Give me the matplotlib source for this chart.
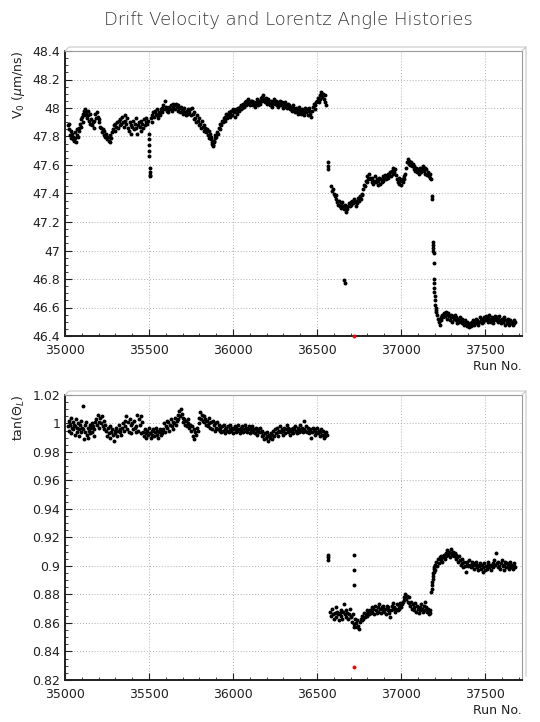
import matplotlib.pyplot as plt
from matplotlib.ticker import MultipleLocator, FormatStrFormatter
from matplotlib.lines import Line2D

# ---- drift velocity V0 vs run number ----
v0_runs = [
    35018, 35022, 35026, 35030, 35034, 35038, 35042, 35046, 35050, 35054, 35058, 35062, 35066, 35070, 35074, 35078, 35082, 35086, 35090, 35094, 35098,
    35102, 35106, 35110, 35114, 35118, 35122, 35126, 35130, 35134, 35138, 35142, 35146, 35150,
    35155, 35160, 35165, 35170, 35175, 35180, 35185, 35190, 35195, 35200, 35205, 35210,
    35215, 35220, 35225, 35230, 35235, 35240, 35245, 35250, 35255, 35260, 35265, 35270, 35275, 35280,
    35285, 35290, 35295, 35300, 35305, 35310, 35315, 35320, 35325, 35330, 35335, 35340, 35345, 35350, 35355, 35360,
    35365, 35370, 35375, 35380, 35385, 35390, 35395, 35400, 35405, 35410, 35415, 35420, 35425, 35430, 35435, 35440,
    35445, 35450, 35455, 35460, 35465, 35470, 35475, 35480, 35485, 35490, 35495,
    35498, 35499, 35500, 35501, 35502, 35503, 35504, 35505, 35506,
    35510, 35515, 35520, 35525, 35530, 35535, 35540, 35545, 35550, 35555, 35560, 35565, 35570, 35575, 35580, 35585, 35590, 35595, 35600,
    35605, 35610, 35615, 35620, 35625, 35630, 35635, 35640, 35645, 35650, 35655, 35660, 35665, 35670,
    35675, 35680, 35685, 35690, 35695, 35700, 35705, 35710, 35715, 35720, 35725, 35730, 35735, 35740,
    35745, 35750, 35755, 35760, 35765, 35770, 35775, 35780, 35785, 35790, 35795, 35800,
    35805, 35810, 35815, 35820, 35825, 35830, 35835, 35840, 35845, 35850, 35855, 35860,
    35865, 35868, 35871, 35874, 35877, 35880, 35883, 35886, 35889, 35892, 35895,
    35900, 35905, 35910, 35915, 35920, 35925, 35930, 35935, 35940, 35945, 35950, 35955,
    35960, 35965, 35970, 35975, 35980, 35985, 35990, 35995, 36000, 36005, 36010,
    36015, 36020, 36025, 36030, 36035, 36040, 36045, 36050, 36055, 36060,
    36065, 36070, 36075, 36080, 36085, 36090, 36095, 36100, 36105, 36110,
    36115, 36120, 36125, 36130, 36135, 36140, 36145, 36150, 36155, 36160, 36165, 36170, 36175, 36180, 36185,
    36190, 36195, 36200, 36205, 36210, 36215, 36220, 36225, 36230, 36235, 36240, 36245, 36250, 36255, 36260,
    36265, 36270, 36275, 36280, 36285, 36290, 36295, 36300, 36305, 36310, 36315, 36320, 36325, 36330,
    36335, 36340, 36345, 36350, 36355, 36360, 36365, 36370, 36375, 36380, 36385, 36390, 36395, 36400, 36405, 36410,
    36415, 36420, 36425, 36430, 36435, 36440, 36445, 36450, 36455, 36460, 36465, 36470, 36475, 36480, 36485, 36490, 36495,
    36500, 36505, 36510, 36515, 36520, 36525, 36530, 36535, 36540, 36545, 36550, 36555,
    36564, 36566, 36568,
    36585, 36590, 36595, 36600, 36605, 36610, 36615, 36620, 36625, 36630, 36635,
    36640, 36645, 36650, 36655, 36660, 36665, 36670, 36675, 36680, 36685, 36690,
    36695, 36700, 36705, 36710, 36715, 36720, 36725, 36730, 36735, 36740, 36745, 36750, 36755, 36760, 36765, 36770,
    36775, 36780, 36785, 36790, 36795, 36800, 36805, 36810, 36815,
    36820, 36825, 36830, 36835, 36840, 36845, 36850, 36855, 36860, 36865, 36870, 36875,
    36880, 36885, 36890, 36895, 36900, 36905, 36910, 36915, 36920, 36925, 36930,
    36935, 36940, 36945, 36950, 36955, 36960, 36965, 36970, 36975,
    36980, 36985, 36990, 36995, 37000, 37005, 37010, 37015, 37020, 37025,
    37030, 37035, 37040, 37045, 37050, 37055, 37060, 37065, 37070,
    37075, 37080, 37085, 37090, 37095, 37100, 37105, 37110, 37115, 37120, 37125,
    37130, 37135, 37140, 37145, 37150, 37155, 37160, 37165, 37170, 37175, 37180,
    37183, 37185, 37190, 37191, 37192, 37193, 37194, 37195, 37196, 37197, 37198, 37199, 37200, 37202, 37204, 37206, 37208, 37210,
    37215, 37220, 37225, 37230, 37235, 37240, 37245, 37250, 37255, 37260, 37265, 37270, 37275, 37280,
    37285, 37290, 37295, 37300, 37305, 37310, 37315, 37320, 37325, 37330, 37335, 37340, 37345, 37350,
    37355, 37360, 37365, 37370, 37375, 37380, 37385, 37390, 37395, 37400, 37405, 37410, 37415, 37420,
    37425, 37430, 37435, 37440, 37445, 37450, 37455, 37460, 37465, 37470, 37475, 37480, 37485,
    37490, 37495, 37500, 37505, 37510, 37515, 37520, 37525, 37530, 37535, 37540, 37545, 37550,
    37555, 37560, 37565, 37570, 37575, 37580, 37585, 37590, 37595, 37600, 37605, 37610, 37615,
    37620, 37625, 37630, 37635, 37640, 37645, 37650, 37655, 37660, 37665, 37670, 37675, 37680,
]
v0_vals = [
    47.88, 47.85, 47.89, 47.81, 47.84, 47.79, 47.82, 47.78, 47.80, 47.77, 47.83, 47.79, 47.76, 47.81, 47.85, 47.80, 47.86, 47.84, 47.89, 47.87, 47.92,
    47.94, 47.90, 47.96, 47.98, 47.95, 47.99, 47.97, 47.93, 47.98, 47.95, 47.91, 47.96, 47.89,
    47.92, 47.88, 47.90, 47.86, 47.91, 47.96, 47.93, 47.97, 47.94, 47.90, 47.92, 47.87,
    47.86, 47.83, 47.85, 47.81, 47.84, 47.80, 47.82, 47.78, 47.80, 47.77, 47.81, 47.76, 47.79, 47.83,
    47.85, 47.88, 47.84, 47.89, 47.87, 47.90, 47.86, 47.91, 47.88, 47.92, 47.89, 47.94, 47.90, 47.87, 47.91, 47.95,
    47.89, 47.93, 47.86, 47.84, 47.90, 47.88, 47.82, 47.87, 47.91, 47.85, 47.89, 47.93, 47.86, 47.82, 47.88, 47.90,
    47.87, 47.84, 47.91, 47.89, 47.86, 47.92, 47.88, 47.90, 47.93, 47.89, 47.91,
    47.82, 47.78, 47.74, 47.70, 47.66, 47.58, 47.55, 47.53, 47.52,
    47.93, 47.90, 47.95, 47.97, 47.94, 47.98, 47.96, 47.99, 47.95, 47.93, 47.97, 47.95, 47.99, 48.00, 47.97, 48.02, 47.99, 48.05, 48.01,
    47.98, 48.00, 47.97, 48.01, 47.99, 48.02, 47.98, 48.03, 48.00, 48.02, 47.99, 48.03, 48.01, 47.98,
    48.02, 48.00, 47.97, 48.01, 47.99, 47.96, 47.98, 48.00, 47.97, 47.95, 47.98, 47.96, 47.99, 47.97,
    47.99, 47.95, 48.00, 47.96, 47.92, 47.97, 47.93, 47.90, 47.95, 47.91, 47.88, 47.93,
    47.89, 47.86, 47.91, 47.87, 47.84, 47.88, 47.86, 47.83, 47.85, 47.81, 47.84, 47.79,
    47.82, 47.78, 47.80, 47.76, 47.75, 47.73, 47.74, 47.77, 47.76, 47.79, 47.81,
    47.80, 47.83, 47.82, 47.86, 47.85, 47.89, 47.88, 47.91, 47.90, 47.93, 47.91, 47.94,
    47.96, 47.93, 47.95, 47.97, 47.94, 47.96, 47.98, 47.95, 47.99, 47.97, 47.94,
    47.97, 47.99, 47.96, 48.00, 47.98, 48.01, 47.99, 48.02, 48.00, 48.03,
    48.01, 48.04, 48.02, 48.05, 48.03, 48.06, 48.04, 48.02, 48.05, 48.03,
    48.05, 48.02, 48.04, 48.01, 48.03, 48.06, 48.04, 48.02, 48.05, 48.03, 48.07, 48.05, 48.08, 48.09, 48.06,
    48.04, 48.07, 48.05, 48.03, 48.06, 48.04, 48.02, 48.05, 48.03, 48.01, 48.04, 48.06, 48.03, 48.05, 48.02,
    48.04, 48.01, 48.03, 48.05, 48.02, 48.04, 48.00, 48.03, 48.01, 48.04, 48.02, 48.00, 48.03, 48.01,
    48.02, 47.99, 48.01, 47.98, 48.00, 48.02, 47.99, 47.97, 48.00, 47.98, 47.96, 47.99, 48.01, 47.98, 47.96, 47.99,
    47.97, 47.95, 47.98, 48.00, 47.97, 47.99, 47.95, 47.98, 48.00, 47.96, 47.94, 47.98, 48.01, 48.03, 47.99, 48.02, 48.04,
    48.05, 48.07, 48.04, 48.09, 48.06, 48.11, 48.08, 48.10, 48.06, 48.09, 48.04, 48.02,
    47.62, 47.59, 47.57,
    47.45, 47.42, 47.43, 47.40, 47.38, 47.36, 47.39, 47.34, 47.32, 47.35, 47.31,
    47.33, 47.30, 47.34, 47.31, 47.29, 47.32, 47.30, 47.27, 47.29, 47.31, 47.33,
    47.31, 47.34, 47.32, 47.35, 47.33, 47.36, 47.34, 47.31, 47.35, 47.33, 47.37, 47.35, 47.38, 47.36, 47.40, 47.39,
    47.43, 47.46, 47.45, 47.49, 47.48, 47.52, 47.50, 47.54, 47.51,
    47.50, 47.48, 47.51, 47.47, 47.49, 47.52, 47.48, 47.50, 47.46, 47.49, 47.51, 47.47,
    47.50, 47.48, 47.52, 47.49, 47.51, 47.53, 47.50, 47.52, 47.54, 47.51, 47.53,
    47.55, 47.52, 47.56, 47.54, 47.58, 47.55, 47.57, 47.53, 47.50,
    47.48, 47.51, 47.47, 47.49, 47.46, 47.50, 47.48, 47.52, 47.50, 47.54,
    47.58, 47.62, 47.64, 47.61, 47.63, 47.60, 47.62, 47.59, 47.61,
    47.57, 47.59, 47.56, 47.58, 47.55, 47.57, 47.54, 47.56, 47.58, 47.55, 47.57,
    47.59, 47.56, 47.58, 47.54, 47.57, 47.53, 47.55, 47.52, 47.54, 47.51, 47.50,
    47.38, 47.36, 47.06, 47.04, 47.02, 47.00, 46.98, 46.91, 46.80, 46.77, 46.74, 46.71, 46.68, 46.65, 46.62, 46.60, 46.58, 46.57,
    46.55, 46.52, 46.50, 46.48, 46.53, 46.51, 46.55, 46.53, 46.56, 46.54, 46.57, 46.55, 46.52, 46.56,
    46.54, 46.51, 46.55, 46.53, 46.50, 46.54, 46.52, 46.55, 46.51, 46.53, 46.49, 46.52, 46.50, 46.53,
    46.51, 46.49, 46.52, 46.50, 46.48, 46.51, 46.49, 46.47, 46.50, 46.48, 46.46, 46.49, 46.47, 46.50,
    46.49, 46.51, 46.48, 46.50, 46.52, 46.49, 46.51, 46.48, 46.50, 46.53, 46.51, 46.49, 46.52,
    46.50, 46.53, 46.51, 46.54, 46.52, 46.50, 46.53, 46.55, 46.52, 46.50, 46.53, 46.51, 46.49,
    46.52, 46.54, 46.51, 46.53, 46.50, 46.52, 46.54, 46.51, 46.49, 46.52, 46.50, 46.53, 46.51,
    46.48, 46.51, 46.49, 46.52, 46.50, 46.48, 46.51, 46.49, 46.50, 46.48, 46.51, 46.49, 46.50,
]
v0_out_runs = [36662, 36664]
v0_out_vals = [46.79, 46.77]
v0_red_runs = [36720]
v0_red_vals = [46.40]

# ---- tan of Lorentz angle vs run number ----
tan_runs = [
    35018, 35022, 35026, 35030, 35034, 35038, 35042, 35046, 35050, 35054, 35058, 35062,
    35066, 35070, 35074, 35078, 35082, 35086, 35090, 35094, 35098, 35102, 35106,
    35110, 35114, 35118, 35122, 35126, 35130, 35134, 35138, 35142, 35146, 35150, 35154, 35158, 35162, 35166, 35170, 35174, 35178,
    35185, 35190, 35195, 35200, 35205, 35210, 35215, 35220, 35225, 35230, 35235, 35240,
    35245, 35250, 35255, 35260, 35265, 35270, 35275, 35280, 35285, 35290, 35295,
    35300, 35305, 35310, 35315, 35320, 35325, 35330, 35335, 35340, 35345, 35350,
    35355, 35360, 35365, 35370, 35375, 35380, 35385, 35390, 35395, 35400, 35405, 35410, 35415, 35420,
    35425, 35430, 35435, 35440, 35445, 35450, 35455, 35460,
    35465, 35470, 35475, 35480, 35485, 35490, 35495, 35500, 35505, 35510, 35515, 35520,
    35525, 35530, 35535, 35540, 35545, 35550, 35555, 35560, 35565, 35570, 35575, 35580,
    35585, 35590, 35595, 35600, 35605, 35610, 35615, 35620, 35625, 35630, 35635, 35640,
    35645, 35650, 35655, 35660, 35665, 35670, 35675, 35680, 35685, 35690, 35695,
    35700, 35705, 35710, 35715, 35720, 35725, 35730, 35735, 35740, 35745,
    35750, 35755, 35760, 35765, 35770, 35775, 35780, 35785, 35790,
    35795, 35800, 35805, 35810, 35815, 35820, 35825, 35830,
    35835, 35840, 35845, 35850, 35855, 35860, 35865, 35870, 35875,
    35880, 35885, 35890, 35895, 35900, 35905, 35910, 35915, 35920,
    35925, 35930, 35935, 35940, 35945, 35950, 35955, 35960, 35965, 35970,
    35975, 35980, 35985, 35990, 35995, 36000, 36005, 36010, 36015, 36020,
    36025, 36030, 36035, 36040, 36045, 36050, 36055, 36060, 36065, 36070,
    36075, 36080, 36085, 36090, 36095, 36100, 36105, 36110, 36115, 36120,
    36125, 36130, 36135, 36140, 36145, 36150, 36155, 36160,
    36165, 36170, 36175, 36180, 36185, 36190, 36195, 36200, 36205,
    36210, 36215, 36220, 36225, 36230, 36235, 36240, 36245,
    36250, 36255, 36260, 36265, 36270, 36275, 36280, 36285, 36290, 36295,
    36300, 36305, 36310, 36315, 36320, 36325, 36330, 36335, 36340, 36345,
    36350, 36355, 36360, 36365, 36370, 36375, 36380, 36385, 36390, 36395,
    36400, 36405, 36410, 36415, 36420, 36425, 36430, 36435, 36440, 36445,
    36450, 36455, 36460, 36465, 36470, 36475, 36480, 36485, 36490, 36495,
    36500, 36505, 36510, 36515, 36520, 36525, 36530, 36535, 36540, 36545,
    36550, 36555, 36560,
    36564, 36565, 36566,
    36580, 36585, 36590, 36595, 36600, 36605, 36610, 36615, 36620, 36625,
    36630, 36635, 36640, 36645, 36650, 36655, 36660, 36665, 36670, 36675,
    36680, 36685, 36690, 36695, 36700,
    36705, 36710, 36715, 36720, 36725, 36730, 36735, 36740, 36745, 36750, 36755, 36760,
    36765, 36770, 36775, 36780, 36785, 36790, 36795, 36800, 36805, 36810,
    36815, 36820, 36825, 36830, 36835, 36840, 36845, 36850, 36855, 36860,
    36865, 36870, 36875, 36880, 36885, 36890, 36895, 36900, 36905, 36910,
    36915, 36920, 36925, 36930, 36935, 36940, 36945, 36950, 36955, 36960,
    36965, 36970, 36975, 36980, 36985, 36990, 36995, 37000, 37005,
    37010, 37015, 37020, 37025, 37030, 37035, 37040, 37045, 37050,
    37055, 37060, 37065, 37070, 37075, 37080, 37085, 37090, 37095, 37100,
    37105, 37110, 37115, 37120, 37125, 37130, 37135, 37140, 37145, 37150,
    37155, 37160, 37165, 37170, 37175,
    37180, 37182, 37184, 37186, 37188, 37190, 37192, 37194, 37196, 37198, 37200, 37202, 37205,
    37210, 37215, 37220, 37225, 37230, 37235, 37240, 37245, 37250, 37255,
    37260, 37265, 37270, 37275, 37280, 37285, 37290, 37295, 37300, 37305,
    37310, 37315, 37320, 37325, 37330, 37335, 37340, 37345, 37350, 37355,
    37360, 37365, 37370, 37375, 37380, 37385, 37390,
    37395, 37400, 37405, 37410, 37415, 37420, 37425, 37430, 37435, 37440,
    37445, 37450, 37455, 37460, 37465, 37470, 37475, 37480, 37485, 37490,
    37495, 37500, 37505, 37510, 37515, 37520, 37525, 37530, 37535, 37540,
    37545, 37550, 37555, 37560, 37565, 37570, 37575, 37580, 37585, 37590,
    37595, 37600, 37605, 37610, 37615, 37620, 37625, 37630, 37635, 37640,
    37645, 37650, 37655, 37660, 37665, 37670, 37675, 37680,
]
tan_vals = [
    0.998, 1.002, 0.995, 0.999, 1.004, 0.993, 0.997, 1.001, 0.996, 0.999, 0.992, 0.998,
    1.003, 0.994, 0.997, 1.000, 0.991, 0.996, 0.999, 0.994, 1.002, 0.997, 1.012,
    0.996, 0.989, 0.999, 0.994, 1.001, 0.992, 0.997, 0.990, 0.995, 0.999, 0.993, 0.997, 1.000, 0.994, 0.998, 0.991, 0.996, 1.001,
    1.003, 0.999, 1.006, 1.001, 0.997, 1.004, 1.000, 1.005, 0.998, 1.002, 0.996, 0.999,
    0.995, 0.991, 0.997, 0.993, 0.998, 0.990, 0.994, 0.996, 0.992, 0.988, 0.995,
    0.993, 0.997, 0.991, 0.995, 0.999, 0.994, 0.996, 0.992, 0.997, 1.000, 0.995,
    1.002, 0.998, 1.005, 0.996, 1.001, 0.994, 1.003, 0.999, 0.993, 1.000, 0.996, 1.002, 0.997, 0.994,
    0.998, 1.006, 0.995, 1.003, 0.999, 1.005, 0.993, 1.001,
    0.994, 0.991, 0.996, 0.993, 0.990, 0.995, 0.992, 0.997, 0.993, 0.990, 0.995, 0.992,
    0.996, 0.991, 0.994, 0.997, 0.992, 0.995, 0.990, 0.994, 0.996, 0.992, 0.995, 0.993,
    0.996, 1.000, 0.994, 0.998, 1.002, 0.997, 1.001, 0.995, 0.999, 1.003, 0.998, 1.001,
    0.996, 1.000, 1.004, 0.999, 1.002, 1.006, 1.003, 1.009, 1.005, 1.010, 1.007,
    1.004, 1.001, 1.003, 0.999, 1.002, 0.998, 1.000, 1.003, 0.997, 0.999,
    0.995, 0.998, 0.991, 0.996, 0.989, 0.994, 0.992, 0.997, 0.995,
    1.000, 1.004, 1.008, 1.003, 1.006, 1.002, 1.005, 1.001,
    1.003, 0.999, 1.002, 0.998, 1.004, 1.000, 0.997, 1.001, 0.996,
    1.002, 0.999, 0.995, 1.000, 0.997, 1.001, 0.996, 0.999, 0.995,
    0.997, 0.994, 0.998, 0.995, 0.999, 0.996, 0.993, 0.997, 0.995, 0.998,
    0.994, 0.996, 0.999, 0.995, 0.997, 0.993, 0.996, 0.998, 0.994, 0.997,
    0.995, 0.999, 0.996, 0.993, 0.997, 0.995, 0.998, 0.994, 0.996, 0.999,
    0.995, 0.997, 0.994, 0.996, 0.998, 0.993, 0.997, 0.995, 0.998, 0.994,
    0.996, 0.993, 0.997, 0.995, 0.992, 0.996, 0.994, 0.997,
    0.994, 0.991, 0.995, 0.992, 0.989, 0.993, 0.990, 0.994, 0.991,
    0.988, 0.992, 0.990, 0.993, 0.989, 0.992, 0.995, 0.991,
    0.996, 0.993, 0.997, 0.994, 0.991, 0.995, 0.998, 0.994, 0.996, 0.992,
    0.995, 0.997, 0.993, 0.996, 0.999, 0.994, 0.997, 0.995, 0.992, 0.996,
    0.994, 0.997, 0.993, 0.996, 0.998, 0.995, 0.993, 0.997, 0.994, 0.996,
    0.999, 0.995, 0.997, 0.994, 0.996, 1.002, 0.995, 0.998, 0.994, 0.997,
    0.995, 0.993, 0.996, 0.990, 0.994, 0.997, 0.995, 0.992, 0.996, 0.994,
    0.997, 0.993, 0.995, 0.991, 0.994, 0.996, 0.992, 0.995, 0.990, 0.993,
    0.991, 0.994, 0.992,
    0.908, 0.906, 0.904,
    0.868, 0.865, 0.870, 0.866, 0.863, 0.867, 0.871, 0.864, 0.868, 0.866,
    0.862, 0.867, 0.869, 0.865, 0.863, 0.868, 0.873, 0.866, 0.864, 0.869,
    0.867, 0.863, 0.866, 0.870, 0.865,
    0.864, 0.861, 0.866, 0.859, 0.863, 0.860, 0.857, 0.862, 0.858, 0.856, 0.861, 0.863,
    0.862, 0.865, 0.863, 0.867, 0.864, 0.866, 0.869, 0.865, 0.868, 0.866,
    0.869, 0.867, 0.871, 0.868, 0.870, 0.866, 0.872, 0.869, 0.867, 0.871,
    0.868, 0.873, 0.870, 0.867, 0.871, 0.869, 0.872, 0.868, 0.870, 0.866,
    0.872, 0.869, 0.871, 0.867, 0.864, 0.869, 0.872, 0.870, 0.874, 0.871,
    0.868, 0.870, 0.873, 0.869, 0.872, 0.870, 0.874, 0.871, 0.873,
    0.875, 0.878, 0.876, 0.880, 0.877, 0.879, 0.875, 0.878, 0.874,
    0.872, 0.875, 0.870, 0.873, 0.869, 0.871, 0.874, 0.868, 0.872, 0.870,
    0.867, 0.871, 0.869, 0.873, 0.870, 0.868, 0.872, 0.869, 0.875, 0.871,
    0.868, 0.870, 0.866, 0.869, 0.867,
    0.882, 0.884, 0.887, 0.889, 0.891, 0.893, 0.895, 0.896, 0.898, 0.899, 0.897, 0.901, 0.900,
    0.903, 0.900, 0.905, 0.902, 0.906, 0.904, 0.907, 0.903, 0.906, 0.908,
    0.905, 0.909, 0.907, 0.911, 0.908, 0.910, 0.906, 0.909, 0.912, 0.908,
    0.910, 0.907, 0.909, 0.905, 0.908, 0.906, 0.903, 0.907, 0.904, 0.901,
    0.905, 0.902, 0.899, 0.903, 0.900, 0.896, 0.901,
    0.903, 0.900, 0.904, 0.901, 0.899, 0.903, 0.900, 0.902, 0.898, 0.901,
    0.903, 0.899, 0.901, 0.897, 0.900, 0.902, 0.898, 0.901, 0.896, 0.899,
    0.902, 0.897, 0.900, 0.898, 0.901, 0.903, 0.899, 0.901, 0.897, 0.900,
    0.902, 0.899, 0.904, 0.901, 0.909, 0.902, 0.899, 0.903, 0.900, 0.898,
    0.902, 0.904, 0.900, 0.897, 0.901, 0.903, 0.899, 0.902, 0.900, 0.898,
    0.901, 0.903, 0.899, 0.901, 0.898, 0.900, 0.902, 0.899,
]
tan_out_runs = [36720, 36720, 36720, 36720]
tan_out_vals = [0.908, 0.897, 0.887, 0.857]
tan_red_runs = [36720]
tan_red_vals = [0.829]

assert len(v0_runs) == len(v0_vals), (len(v0_runs), len(v0_vals))
assert len(tan_runs) == len(tan_vals), (len(tan_runs), len(tan_vals))

fig = plt.figure(figsize=(5.4, 7.22), dpi=100)
fig.text(0.535, 0.972, "Drift Velocity and Lorentz Angle Histories",
         ha='center', va='center', fontsize=13, color='#383838', fontweight='light')

W, H = 540.0, 722.0
left, right = 65, 522
msize = 8


def style_axes(ax, ymin, ymax, ymaj, ymin_step):
    ax.set_xlim(35000, 37720)
    ax.set_ylim(ymin, ymax)
    ax.xaxis.set_major_locator(MultipleLocator(500))
    ax.xaxis.set_minor_locator(MultipleLocator(100))
    ax.yaxis.set_major_locator(MultipleLocator(ymaj))
    ax.yaxis.set_minor_locator(MultipleLocator(ymin_step))
    ax.tick_params(which='both', direction='in', labelsize=9, colors='#202020')
    ax.tick_params(which='major', length=5, width=0.8)
    ax.tick_params(which='minor', length=2.5, width=0.6)
    ax.tick_params(axis='x', pad=6)
    ax.grid(True, which='major', linestyle=(0, (1, 2)), color='#b0b0b0', linewidth=0.7)
    ax.set_axisbelow(True)
    for s in ['left', 'bottom']:
        ax.spines[s].set_linewidth(1.4)
        ax.spines[s].set_color('#202020')
    for s in ['top', 'right']:
        ax.spines[s].set_linewidth(0.8)
        ax.spines[s].set_color('#9a9a9a')
    ax.set_xlabel("Run No.", loc='right', fontsize=9, color='#202020', labelpad=2)


def frame_shadow(top, bottom):
    # light 3D-ish border drawn by ROOT above and right of the frame
    x0, x1 = left / W, right / W
    y_top, y_bot = 1 - top / H, 1 - bottom / H
    dx, dy = 4 / W, 4 / H
    for xs, ys in [([x0, x0 + dx, x1 + dx], [y_top, y_top + dy, y_top + dy]),
                   ([x1, x1 + dx, x1 + dx], [y_top, y_top + dy, y_bot + dy])]:
        fig.add_artist(Line2D(xs, ys, color='#c8c8c8', linewidth=0.8))


# top panel
ax1 = fig.add_axes([left / W, 1 - 336 / H, (right - left) / W, 285 / H])
style_axes(ax1, 46.4, 48.4, 0.2, 0.05)
ax1.yaxis.set_major_formatter(plt.FuncFormatter(lambda v, p: '%g' % round(v, 2)))
ax1.scatter(v0_runs, v0_vals, s=msize, c='black', linewidths=0)
ax1.scatter(v0_out_runs, v0_out_vals, s=msize, c='black', linewidths=0)
ax1.scatter(v0_red_runs, v0_red_vals, s=msize, c='red', linewidths=0, clip_on=False, zorder=5)
ax1.set_ylabel(r"V$_0$ ($\mu$m/ns)", loc='top', fontsize=9, color='#202020', labelpad=4)
frame_shadow(51, 336)

# bottom panel
ax2 = fig.add_axes([left / W, 1 - 680 / H, (right - left) / W, 285 / H])
style_axes(ax2, 0.82, 1.02, 0.02, 0.005)
ax2.yaxis.set_major_formatter(plt.FuncFormatter(lambda v, p: '%g' % round(v, 3)))
ax2.scatter(tan_runs, tan_vals, s=msize, c='black', linewidths=0)
ax2.scatter(tan_out_runs, tan_out_vals, s=msize, c='black', linewidths=0)
ax2.scatter(tan_red_runs, tan_red_vals, s=msize, c='red', linewidths=0, zorder=5)
ax2.set_ylabel(r"tan($\Theta_L$)", loc='top', fontsize=9, color='#202020', labelpad=4)
frame_shadow(395, 680)

plt.savefig('out.png', dpi=100)
